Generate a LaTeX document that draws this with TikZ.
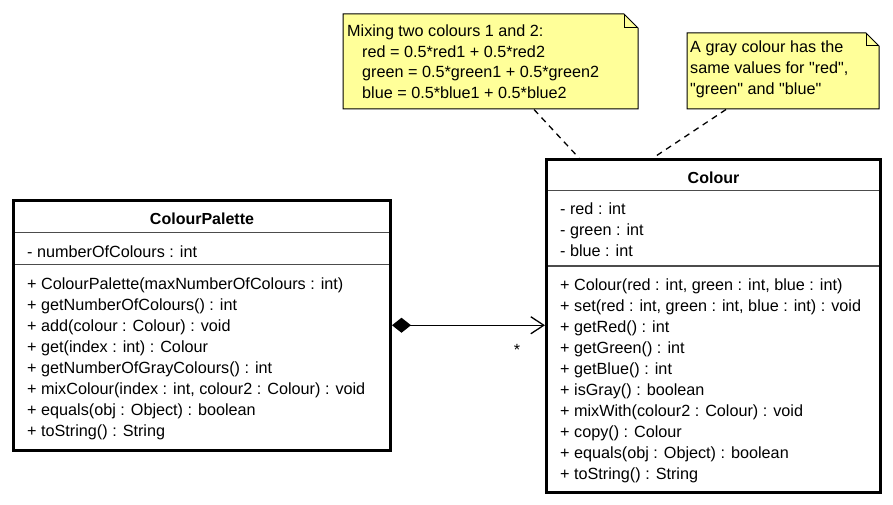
\documentclass[tikz,border=0pt]{standalone}
\usepackage{fontspec}
\newfontfamily\umlfont{Liberation Sans}
\usetikzlibrary{arrows.meta,calc}
\definecolor{notefill}{RGB}{255,255,153}
\begin{document}
\begin{tikzpicture}[x=1pt,y=-1pt,
  classbox/.style={draw, line width=3pt, fill=white, inner sep=0pt, rectangle},
  sepline/.style={line width=1.5pt, draw=black!70},
  member/.style={anchor=base west, inner sep=0pt, font=\umlfont\fontsize{16.2}{20}\selectfont},
  ctitle/.style={anchor=base, inner sep=0pt, font=\umlfont\fontsize{16}{20}\selectfont\bfseries},
  notetext/.style={anchor=base west, inner sep=0pt, font=\umlfont\fontsize{16.2}{20}\selectfont},
  notebody/.style={draw=black, line width=1pt, fill=notefill, line join=miter},
  anchorline/.style={dash pattern=on 6pt off 5pt, line width=1.3pt},
  comp/.style={line width=1.3pt, {Diamond[length=19pt,width=15pt]}-{Straight Barb[length=13pt,width=17pt,line width=1.3pt]}},
]
\fill[white] (0,0) rectangle (893,505);
\useasboundingbox (0,0) rectangle (893,505);

% ColourPalette
\node[classbox, minimum width=377pt, minimum height=249.5pt] (cp) at (202,325.25) {};
\draw[sepline] (15,232.5) -- (389,232.5);
\draw[sepline] (15,264.5) -- (389,264.5);
\node[ctitle] (cpt) at (202,224) {ColourPalette};
\node[member] (cpa1) at (27,257) {- numberOfColours : int};
\node[member] (cpm1) at (27,289.5) {+ ColourPalette(maxNumberOfColours : int)};
\node[member] (cpm2) at (27,310.5) {+ getNumberOfColours() : int};
\node[member] (cpm3) at (27,331.5) {+ add(colour : Colour) : void};
\node[member] (cpm4) at (27,352.5) {+ get(index : int) : Colour};
\node[member] (cpm5) at (27,373.5) {+ getNumberOfGrayColours() : int};
\node[member] (cpm6) at (27,394.5) {+ mixColour(index : int, colour2 : Colour) : void};
\node[member] (cpm7) at (27,415.5) {+ equals(obj : Object) : boolean};
\node[member] (cpm8) at (27,436.5) {+ toString() : String};

% Colour
\node[classbox, minimum width=334pt, minimum height=332.5pt] (col) at (713.5,325.75) {};
\draw[sepline] (548,190.5) -- (879,190.5);
\draw[sepline] (548,266) -- (879,266);
\node[ctitle] (colt) at (713.5,183) {Colour};
\node[member] (cola1) at (560,214.5) {- red : int};
\node[member] (cola2) at (560,235.5) {- green : int};
\node[member] (cola3) at (560,256.5) {- blue : int};
\node[member] (colm1) at (560,290) {+ Colour(red : int, green : int, blue : int)};
\node[member] (colm2) at (560,311) {+ set(red : int, green : int, blue : int) : void};
\node[member] (colm3) at (560,332) {+ getRed() : int};
\node[member] (colm4) at (560,353) {+ getGreen() : int};
\node[member] (colm5) at (560,374) {+ getBlue() : int};
\node[member] (colm6) at (560,395) {+ isGray() : boolean};
\node[member] (colm7) at (560,416) {+ mixWith(colour2 : Colour) : void};
\node[member] (colm8) at (560,437) {+ copy() : Colour};
\node[member] (colm9) at (560,458) {+ equals(obj : Object) : boolean};
\node[member] (colm10) at (560,479) {+ toString() : String};

% composition
\draw[comp] (cp.east) -- (cp.east -| col.west);
\node[member, anchor=base] (mult) at (517,355) {*};

% note 1
\draw[notebody] (343,14) -- (624,14) -- (638,28) -- (638,109) -- (343,109) -- cycle;
\draw[line width=1pt] (624,14) -- (624,28) -- (638,28);
\node[notetext] (n1a) at (347,37) {Mixing two colours 1 and 2:};
\node[notetext] (n1b) at (362,57.5) {red = 0.5*red1 + 0.5*red2};
\node[notetext] (n1c) at (362,78) {green = 0.5*green1 + 0.5*green2};
\node[notetext] (n1d) at (362,98.5) {blue = 0.5*blue1 + 0.5*blue2};
\coordinate (n1end) at (534,109.5);

% note 2
\draw[notebody] (687,33) -- (866,33) -- (879,46) -- (879,109) -- (687,109) -- cycle;
\draw[line width=1pt] (866,33) -- (866,46) -- (879,46);
\node[notetext] (n2a) at (690,53) {A gray colour has the};
\node[notetext] (n2b) at (690,74) {same values for "red",};
\node[notetext] (n2c) at (690,95) {"green" and "blue"};
\coordinate (n2end) at (726,109.5);

\coordinate (c1) at (579,158);
\coordinate (c2) at (653,158);
\draw[anchorline] (n1end) -- (c1);
\draw[anchorline] (n2end) -- (c2);
\end{tikzpicture}
\end{document}
